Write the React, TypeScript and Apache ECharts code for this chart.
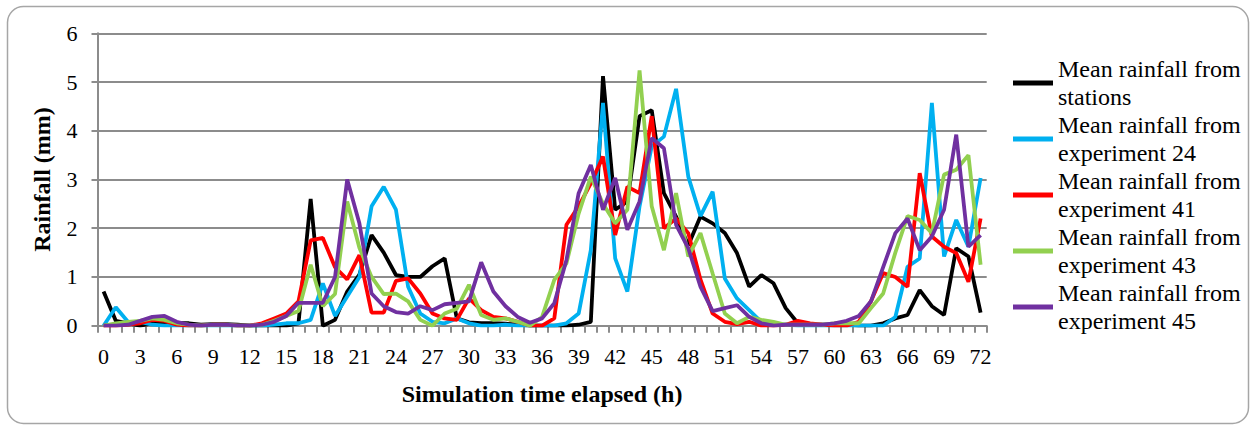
import React, { useEffect, useRef } from "react";
import * as echarts from "echarts";

const hours: string[] = Array.from({ length: 73 }, (_, i) => String(i));

const seriesNames = [
  "Mean rainfall from stations",
  "Mean rainfall from experiment 24",
  "Mean rainfall from experiment 41",
  "Mean rainfall from experiment 43",
  "Mean rainfall from experiment 45",
];

const seriesColors = ["#000000", "#00b0f0", "#ff0000", "#92d050", "#7030a0"];

const stations = [
  0.7, 0.1, 0.05, 0.0, 0.05, 0.08, 0.05, 0.05, 0.02, 0.03, 0.03, 0.02, 0.0, 0.0, 0.0, 0.0, 0.05,
  2.6, 0.0, 0.12, 0.7, 1.05, 1.86, 1.5, 1.04, 1.0, 1.0, 1.22, 1.38, 0.15, 0.07, 0.05, 0.05, 0.04,
  0.02, 0.0, 0.0, 0.0, 0.0, 0.02, 0.08, 5.12, 2.38, 2.55, 4.3, 4.42, 2.72, 2.24, 1.65, 2.24, 2.1,
  1.9, 1.49, 0.8, 1.04, 0.87, 0.36, 0.05, 0.02, 0.02, 0.02, 0.02, 0.0, 0.0, 0.05, 0.15, 0.22, 0.73,
  0.4, 0.22, 1.59, 1.42, 0.27,
];

const exp24 = [
  0.0, 0.38, 0.08, 0.08, 0.02, 0.0, 0.0, 0.0, 0.0, 0.0, 0.0, 0.0, 0.0, 0.0, 0.02, 0.05, 0.05, 0.12,
  0.87, 0.2, 0.6, 1.0, 2.45, 2.85, 2.38, 0.8, 0.25, 0.08, 0.05, 0.15, 0.05, 0.0, 0.0, 0.02, 0.0,
  0.0, 0.0, 0.0, 0.05, 0.25, 1.55, 4.57, 1.38, 0.7, 2.45, 3.68, 3.88, 4.86, 3.06, 2.25, 2.75, 0.97,
  0.56, 0.32, 0.08, 0.02, 0.02, 0.0, 0.0, 0.0, 0.0, 0.0, 0.0, 0.0, 0.0, 0.18, 1.21, 1.38, 4.57, 1.42,
  2.17, 1.62, 3.03,
];

const exp41 = [
  0.0, 0.0, 0.02, 0.05, 0.12, 0.1, 0.02, 0.0, 0.0, 0.02, 0.02, 0.0, 0.0, 0.05, 0.15, 0.25, 0.5, 1.75,
  1.8, 1.2, 0.95, 1.45, 0.27, 0.27, 0.92, 0.97, 0.66, 0.25, 0.15, 0.12, 0.56, 0.32, 0.18, 0.15, 0.08,
  0.0, 0.0, 0.15, 2.07, 2.45, 2.92, 3.47, 1.86, 2.85, 2.72, 4.3, 2.0, 2.2, 1.9, 0.95, 0.25, 0.08,
  0.03, 0.08, 0.0, 0.0, 0.02, 0.1, 0.05, 0.02, 0.0, 0.0, 0.08, 0.5, 1.08, 1.0, 0.8, 3.13, 1.83, 1.62,
  1.49, 0.9, 2.2,
];

const exp43 = [
  0.0, 0.05, 0.08, 0.1, 0.15, 0.12, 0.05, 0.02, 0.0, 0.02, 0.02, 0.0, 0.0, 0.02, 0.1, 0.2, 0.3, 1.25,
  0.4, 0.65, 2.55, 1.6, 1.0, 0.65, 0.66, 0.5, 0.12, 0.0, 0.25, 0.35, 0.84, 0.22, 0.12, 0.15, 0.08,
  0.0, 0.18, 0.94, 1.28, 2.3, 3.06, 2.5, 2.1, 2.38, 5.24, 2.45, 1.55, 2.72, 1.42, 1.9, 1.07, 0.25,
  0.05, 0.18, 0.12, 0.08, 0.02, 0.02, 0.02, 0.02, 0.05, 0.05, 0.05, 0.36, 0.66, 1.5, 2.25, 2.17, 1.9,
  3.1, 3.2, 3.5, 1.25,
];

const exp45 = [
  0.0, 0.0, 0.02, 0.1, 0.18, 0.2, 0.08, 0.02, 0.0, 0.02, 0.02, 0.0, 0.0, 0.02, 0.08, 0.2, 0.47, 0.47,
  0.47, 1.0, 3.0, 2.1, 0.66, 0.4, 0.28, 0.25, 0.4, 0.32, 0.44, 0.47, 0.5, 1.3, 0.7, 0.4, 0.18, 0.06,
  0.15, 0.46, 1.35, 2.72, 3.3, 2.38, 3.03, 1.97, 2.55, 3.85, 3.64, 2.07, 1.59, 0.8, 0.3, 0.36, 0.42,
  0.18, 0.05, 0.0, 0.02, 0.02, 0.02, 0.02, 0.05, 0.1, 0.2, 0.5, 1.2, 1.9, 2.2, 1.55, 1.83, 2.38, 3.92,
  1.62, 1.86,
];

const seriesValues = [stations, exp24, exp41, exp43, exp45];

const yTicks = { min: 0, max: 6, interval: 1 };

const FONT = "Liberation Serif";
const GRID_GREY = "#8c8c8c";

export default function App() {
  const ref = useRef<HTMLDivElement>(null);

  useEffect(() => {
    if (!ref.current) return;
    const chart = echarts.init(ref.current, null, { renderer: "svg" });
    chart.setOption({
      animation: false,
      backgroundColor: "#ffffff",
      textStyle: { fontFamily: FONT },
      graphic: [
        {
          type: "rect",
          shape: { x: 7.5, y: 6.5, width: 1241, height: 417, r: 16 },
          style: { fill: "none", stroke: "#a6a6a6", lineWidth: 1.5 },
          silent: true,
          z: -10,
        },
      ],
      grid: { left: 97.5, right: 268.3, top: 33.3, bottom: 104.3, containLabel: false },
      legend: {
        orient: "vertical",
        left: 1013,
        top: 41,
        padding: 0,
        itemGap: -28,
        itemWidth: 40,
        itemHeight: 5,
        icon: "rect",
        data: seriesNames,
        formatter: (name: string) => name.replace(" from ", " from\n"),
        textStyle: {
          fontFamily: FONT,
          fontSize: 24,
          lineHeight: 28,
          color: "#000",
          padding: [28, 0, 0, 0],
        },
      },
      xAxis: {
        type: "category",
        data: hours,
        boundaryGap: true,
        name: "Simulation time elapsed (h)",
        nameLocation: "middle",
        nameGap: 56,
        nameTextStyle: { fontFamily: FONT, fontSize: 24, fontWeight: "bold", color: "#000" },
        axisLine: { lineStyle: { color: GRID_GREY, width: 2 } },
        axisTick: { show: true, interval: 0, length: 7, lineStyle: { color: GRID_GREY, width: 2 } },
        axisLabel: { interval: 2, margin: 20, fontFamily: FONT, fontSize: 22, color: "#000" },
        splitLine: { show: false },
      },
      yAxis: {
        type: "value",
        min: yTicks.min,
        max: yTicks.max,
        interval: yTicks.interval,
        name: "Rainfall (mm)",
        nameLocation: "middle",
        nameGap: 44,
        nameTextStyle: { fontFamily: FONT, fontSize: 24, fontWeight: "bold", color: "#000" },
        axisLine: { show: true, lineStyle: { color: GRID_GREY, width: 2 } },
        axisTick: { show: true, length: 6, lineStyle: { color: GRID_GREY, width: 2 } },
        axisLabel: { margin: 20, fontFamily: FONT, fontSize: 22, color: "#000" },
        splitLine: { show: true, lineStyle: { color: GRID_GREY, width: 2 } },
      },
      series: seriesNames.map((name, i) => ({
        name,
        type: "line",
        data: seriesValues[i],
        symbol: "none",
        smooth: false,
        lineStyle: { color: seriesColors[i], width: 3.8 },
        itemStyle: { color: seriesColors[i] },
      })),
    });
    return () => chart.dispose();
  }, []);

  return (
    <div
      ref={ref}
      style={{ position: "fixed", left: 0, top: 0, width: 1255, height: 430 }}
    />
  );
}
